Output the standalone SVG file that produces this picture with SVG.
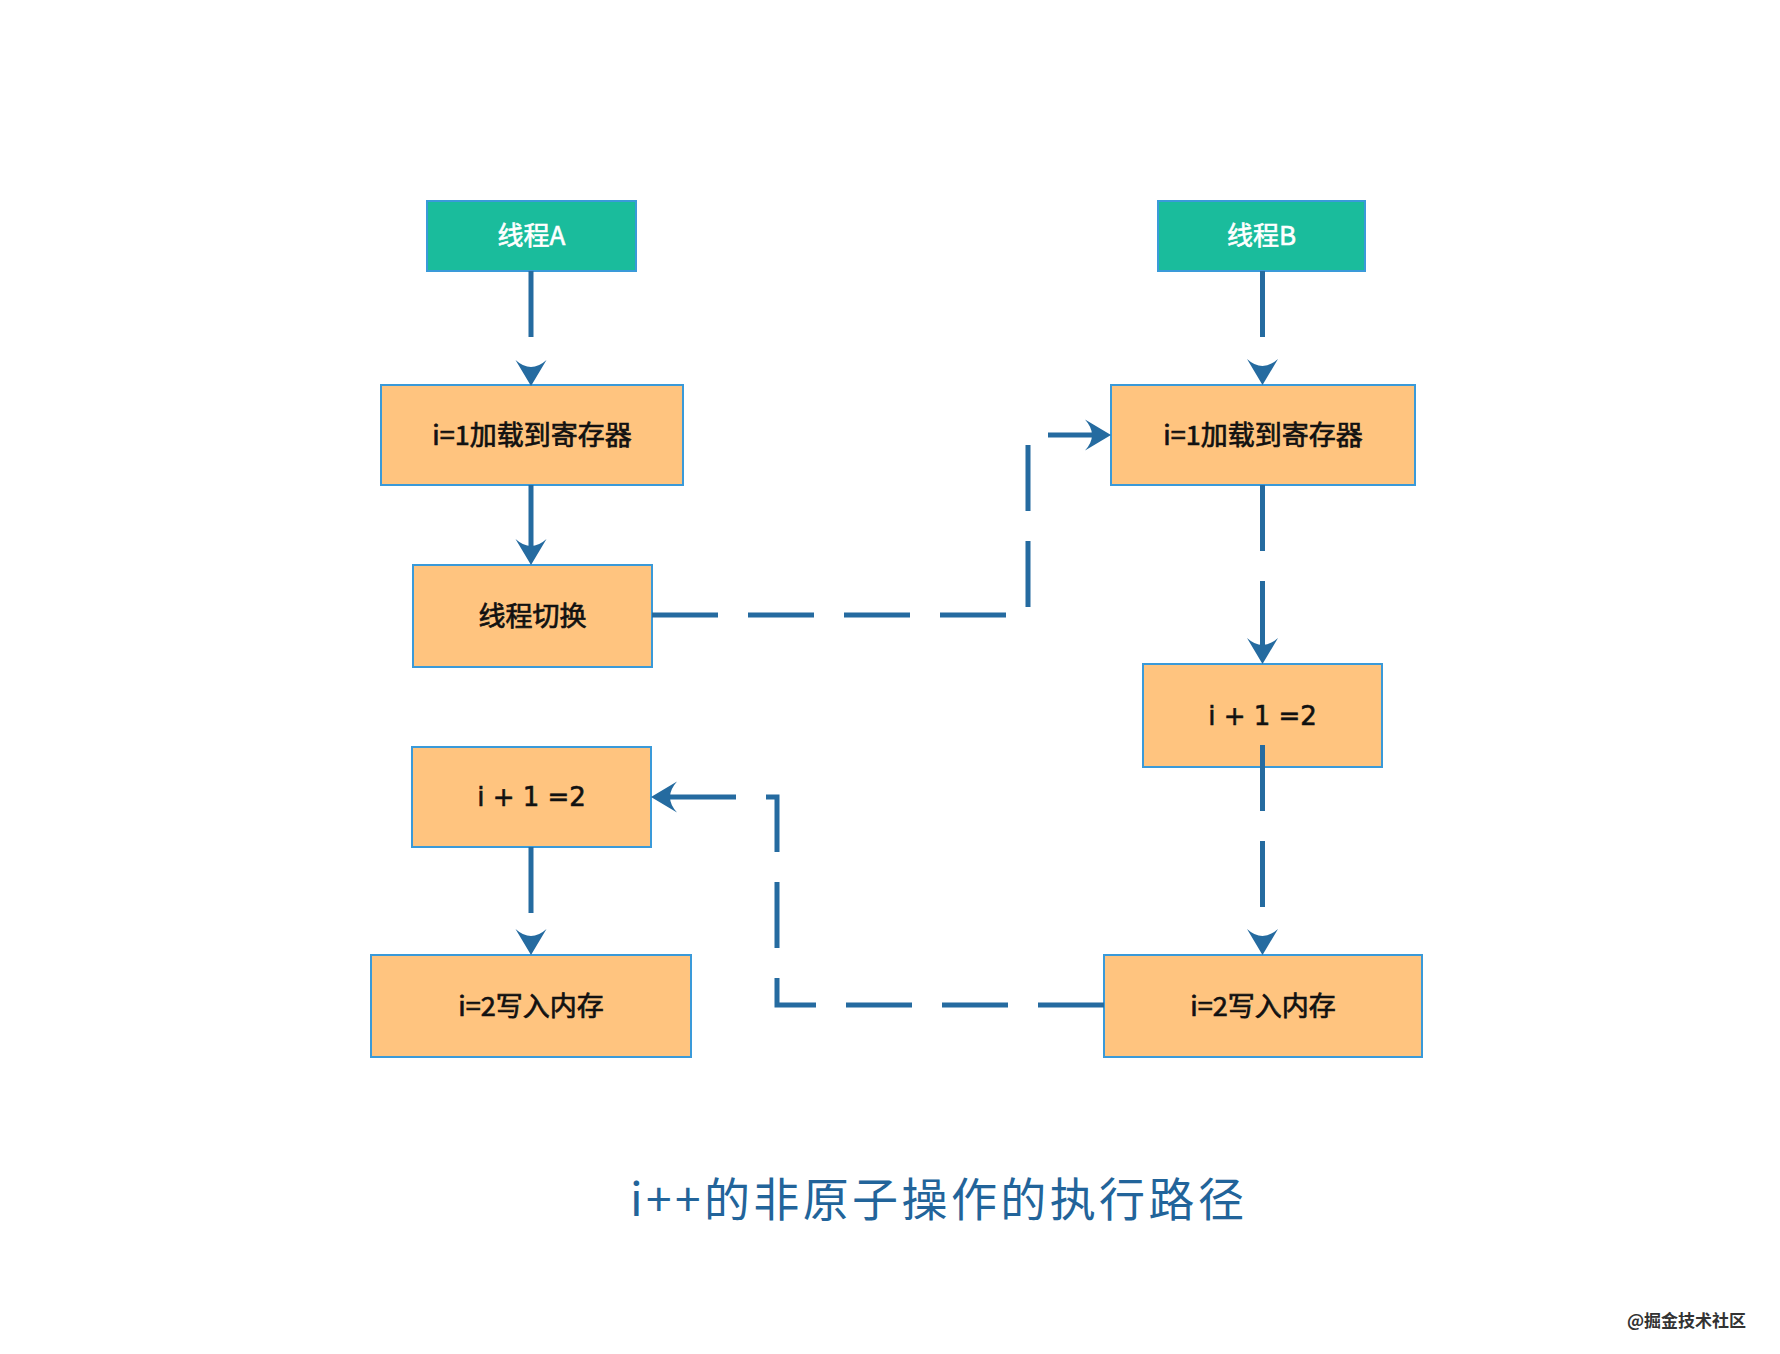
<svg xmlns="http://www.w3.org/2000/svg" width="1780" height="1354" viewBox="0 0 1780 1354">
  <style>
    .hdr { fill: #1ABC9C; stroke: #3A9AD9; stroke-width: 2; }
    .box { fill: #FFC47F; stroke: #3A9AD9; stroke-width: 2; }
    .hdrt { font-family: "Noto Sans CJK SC", "Noto Sans", sans-serif; font-size: 26px; font-weight: 400; fill: #FFFFFF; stroke: #FFFFFF; stroke-width: 0.6; text-anchor: middle; dominant-baseline: central; }
    .boxt { font-family: "Noto Sans CJK SC", "Noto Sans", sans-serif; font-size: 27px; font-weight: 400; fill: #111111; stroke: #111111; stroke-width: 0.7; text-anchor: middle; dominant-baseline: central; }
    .boxl { font-family: "DejaVu Sans", "Noto Sans CJK SC", sans-serif; font-size: 26px; font-weight: 400; fill: #111111; stroke: #111111; stroke-width: 0.6; text-anchor: middle; dominant-baseline: central; }
    .conn { fill: none; stroke: #256BA0; stroke-width: 5; stroke-dasharray: 66 30; stroke-linejoin: miter; stroke-linecap: butt; }
    .title { font-family: "Noto Sans CJK SC", "Noto Sans", sans-serif; font-size: 46px; fill: #22649A; letter-spacing: 3.4px; }
    .wm { font-family: "Noto Sans CJK SC", "Noto Sans", sans-serif; font-size: 17px; font-weight: 600; fill: #333333; }
  </style>
  <defs>
    <marker id="arr" markerUnits="userSpaceOnUse" orient="auto" refX="0" refY="0" markerWidth="40" markerHeight="40" overflow="visible">
      <path d="M19,0 L-7,-15.5 Q7,0 -7,15.5 Z" fill="#256BA0"/>
    </marker>
  </defs>
  <rect width="1780" height="1354" fill="#FFFFFF"/>

  <g id="threadA">
    <rect class="hdr" x="427" y="201" width="209" height="70"/>
    <text class="hdrt" x="531.5" y="233">线程A</text>
  </g>
  <g id="threadB">
    <rect class="hdr" x="1158" y="201" width="207" height="70"/>
    <text class="hdrt" x="1261.5" y="233">线程B</text>
  </g>
  <g id="a-load">
    <rect class="box" x="381" y="385" width="302" height="100"/>
    <text class="boxt" x="532" y="433">i=1加载到寄存器</text>
  </g>
  <g id="b-load">
    <rect class="box" x="1111" y="385" width="304" height="100"/>
    <text class="boxt" x="1263" y="433">i=1加载到寄存器</text>
  </g>
  <g id="a-switch">
    <rect class="box" x="413" y="565" width="239" height="102"/>
    <text class="boxt" x="532.5" y="614">线程切换</text>
  </g>
  <g id="b-add">
    <rect class="box" x="1143" y="664" width="239" height="103"/>
    <text class="boxl" x="1262.5" y="716">i + 1 =2</text>
  </g>
  <g id="a-add">
    <rect class="box" x="412" y="747" width="239" height="100"/>
    <text class="boxl" x="531.5" y="797">i + 1 =2</text>
  </g>
  <g id="a-write">
    <rect class="box" x="371" y="955" width="320" height="102"/>
    <text class="boxt" x="531" y="1004">i=2写入内存</text>
  </g>
  <g id="b-write">
    <rect class="box" x="1104" y="955" width="318" height="102"/>
    <text class="boxt" x="1263" y="1004">i=2写入内存</text>
  </g>

  <g id="connectors">
    <path class="conn" d="M531,271 V367" marker-end="url(#arr)"/>
    <path class="conn" d="M1262.5,271 V366" marker-end="url(#arr)"/>
    <path class="conn" d="M531,485 V546" marker-end="url(#arr)"/>
    <path class="conn" d="M1262.5,485 V645" marker-end="url(#arr)"/>
    <path class="conn" d="M1262.5,745 V936" marker-end="url(#arr)"/>
    <path class="conn" d="M531,847 V936" marker-end="url(#arr)"/>
    <path class="conn" d="M652,615 H1028 V435 H1092" marker-end="url(#arr)"/>
    <path class="conn" d="M1104,1005 H777 V797 H670" marker-end="url(#arr)"/>
  </g>

  <text class="title" x="630" y="1216">i++的非原子操作的执行路径</text>
  <text class="wm" x="1627" y="1327">@掘金技术社区</text>
</svg>
